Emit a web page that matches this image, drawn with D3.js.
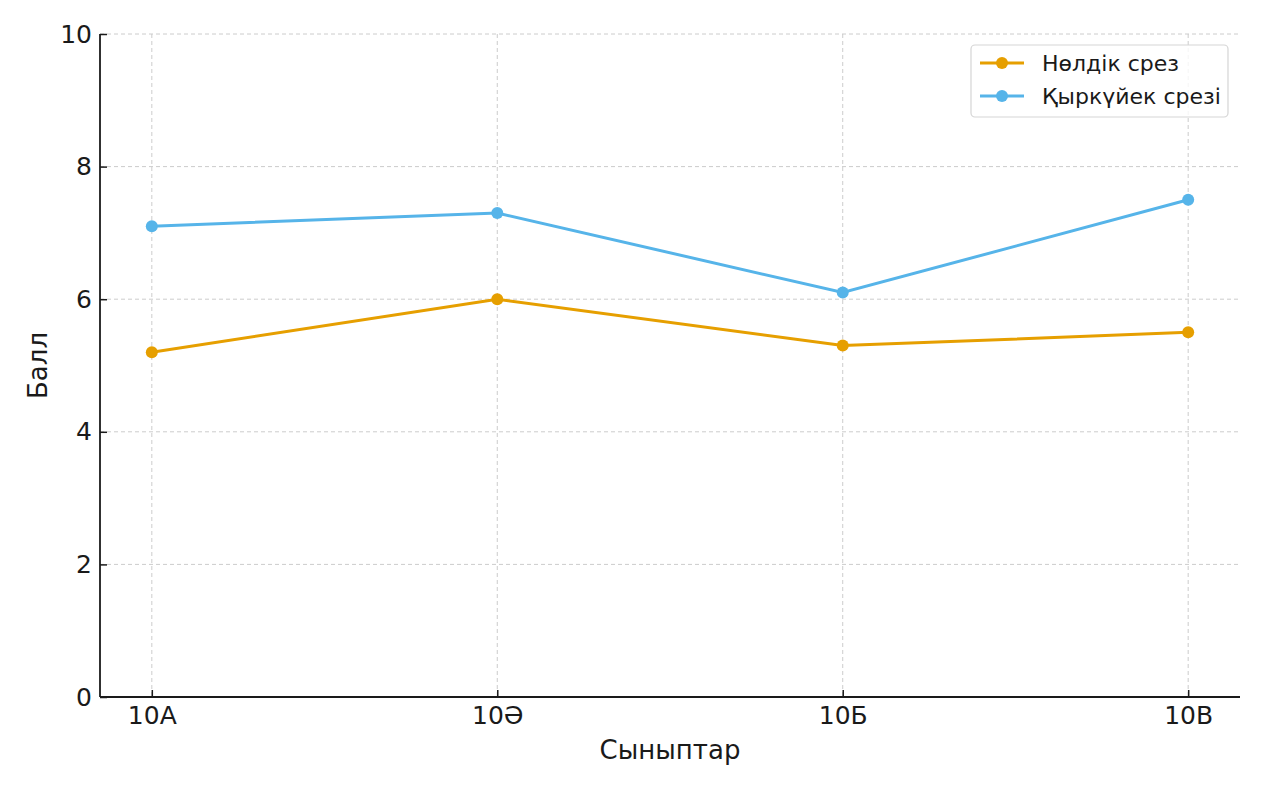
<!DOCTYPE html>
<html><head><meta charset="utf-8">
<script src="https://cdn.jsdelivr.net/npm/d3@7"></script>
<style>body{margin:0;background:#fff;} text{font-family:"DejaVu Sans",sans-serif;fill:#1a1a1a;}</style>
</head><body>
<svg id="c" width="1263" height="789"></svg>
<script>
const categories = ["10А", "10Ә", "10Б", "10В"];
const seriesNames = ["Нөлдік срез", "Қыркүйек срезі"];
const zeroCut = [5.2, 6.0, 5.3, 5.5];
const septCut = [7.1, 7.3, 6.1, 7.5];
const yTicks = [0, 2, 4, 6, 8, 10];
const colors = ["#E69F00", "#56B4E9"];

const svg = d3.select("#c");
const L = 100, R = 1240, T = 34, B = 697;
const xi = d3.scaleLinear().domain([-0.15, 3.15]).range([L, R]);
const x = i => xi(i);
const y = d3.scaleLinear().domain([0, 10]).range([B, T]);

// grid
const g = svg.append("g");
g.selectAll(".hg").data(yTicks).join("line")
  .attr("x1", L).attr("x2", R).attr("y1", d => y(d)).attr("y2", d => y(d))
  .attr("stroke", "#cccccc").attr("stroke-width", 1).attr("stroke-dasharray", "4,3");
g.selectAll(".vg").data(categories).join("line")
  .attr("x1", (d, i) => x(i)).attr("x2", (d, i) => x(i)).attr("y1", T).attr("y2", B)
  .attr("stroke", "#cccccc").attr("stroke-width", 1).attr("stroke-dasharray", "4,3");

// axes
const yAxis = d3.axisLeft(y).tickValues(yTicks).tickSizeInner(-7).tickSizeOuter(0).tickPadding(8).tickFormat(d3.format("d"));
const ya = svg.append("g").attr("transform", `translate(${L},0)`).call(yAxis);
ya.select(".domain").remove();
ya.selectAll(".tick line").attr("stroke", "#1a1a1a").attr("stroke-width", 1.5);
ya.selectAll(".tick text").style("font-size", "25px").style("font-family", "DejaVu Sans").attr("fill", "#1a1a1a");

const xAxis = d3.axisBottom(d3.scalePoint().domain(categories).range([x(0), x(3)])).tickSizeInner(-7).tickSizeOuter(0).tickPadding(9);
const xa = svg.append("g").attr("transform", `translate(0,${B})`).call(xAxis);
xa.select(".domain").remove();
xa.selectAll(".tick line").attr("stroke", "#1a1a1a").attr("stroke-width", 1.5);
xa.selectAll(".tick text").style("font-size", "25px").style("font-family", "DejaVu Sans").attr("fill", "#1a1a1a");

svg.append("line").attr("x1", L).attr("x2", L).attr("y1", T).attr("y2", B).attr("stroke", "#1a1a1a").attr("stroke-width", 1.8);
svg.append("line").attr("x1", L).attr("x2", R).attr("y1", B).attr("y2", B).attr("stroke", "#1a1a1a").attr("stroke-width", 1.8);

// labels
svg.append("text").attr("x", (L + R) / 2).attr("y", 759).attr("text-anchor", "middle").style("font-size", "26px").text("Сыныптар");
svg.append("text").attr("transform", `translate(47,${(T + B) / 2}) rotate(-90)`).attr("text-anchor", "middle").style("font-size", "26px").text("Балл");

// series
const data = [zeroCut, septCut];
const line = d3.line().x((d, i) => x(i)).y(d => y(d));
data.forEach((s, k) => {
  svg.append("path").datum(s).attr("d", line).attr("fill", "none").attr("stroke", colors[k]).attr("stroke-width", 3);
  svg.selectAll(".p" + k).data(s).join("circle").attr("cx", (d, i) => x(i)).attr("cy", d => y(d)).attr("r", 6).attr("fill", colors[k]);
});

// legend
const lg = svg.append("g");
lg.append("rect").attr("x", 971).attr("y", 45).attr("width", 257).attr("height", 72).attr("rx", 4)
  .attr("fill", "#fff").attr("fill-opacity", 0.8).attr("stroke", "#d5d5d5").attr("stroke-width", 1.2);
seriesNames.forEach((n, k) => {
  const yy = 63 + k * 33;
  lg.append("line").attr("x1", 980).attr("x2", 1024).attr("y1", yy).attr("y2", yy).attr("stroke", colors[k]).attr("stroke-width", 3);
  lg.append("circle").attr("cx", 1002).attr("cy", yy).attr("r", 6).attr("fill", colors[k]);
  lg.append("text").attr("x", 1042).attr("y", yy).attr("dy", "0.35em").style("font-size", "22px").attr("fill", "#333").text(n);
});
</script>
</body></html>
